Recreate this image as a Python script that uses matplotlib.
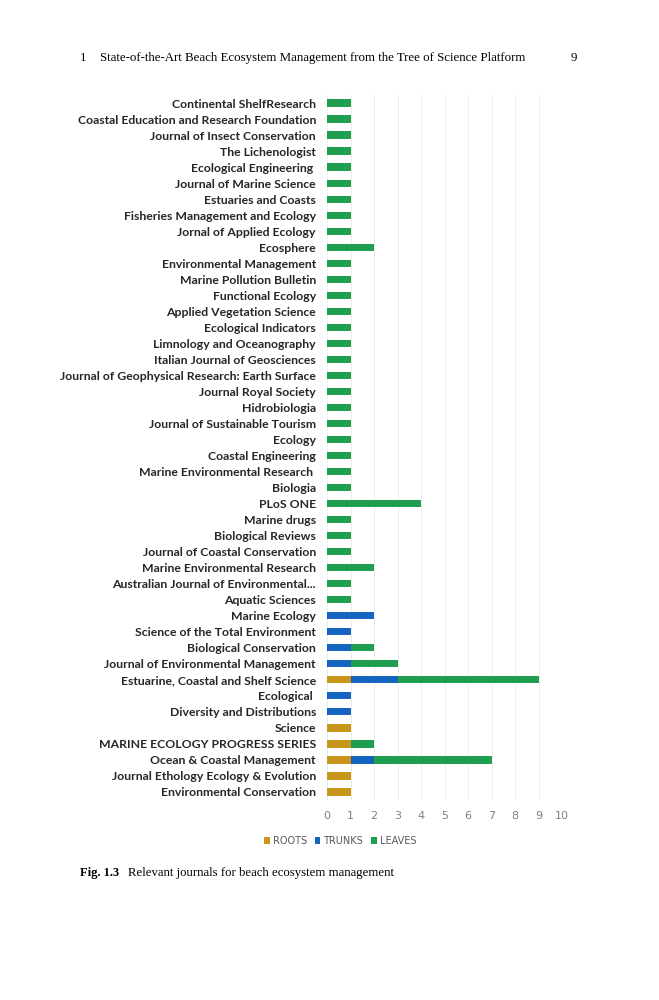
import matplotlib.pyplot as plt
import numpy as np

# journals, top to bottom as in the figure
journals = [
    "Continental ShelfResearch",
    "Coastal Education and Research Foundation",
    "Journal of Insect Conservation",
    "The Lichenologist",
    "Ecological Engineering ",
    "Journal of Marine Science",
    "Estuaries and Coasts",
    "Fisheries Management and Ecology",
    "Jornal of Applied Ecology",
    "Ecosphere",
    "Environmental Management",
    "Marine Pollution Bulletin",
    "Functional Ecology",
    "Applied Vegetation Science",
    "Ecological Indicators",
    "Limnology and Oceanography",
    "Italian Journal of Geosciences",
    "Journal of Geophysical Research: Earth Surface",
    "Journal Royal Society",
    "Hidrobiologia",
    "Journal of Sustainable Tourism",
    "Ecology",
    "Coastal Engineering",
    "Marine Environmental Research ",
    "Biologia",
    "PLoS ONE",
    "Marine drugs",
    "Biological Reviews",
    "Journal of Coastal Conservation",
    "Marine Environmental Research",
    "Australian Journal of Environmental...",
    "Aquatic Sciences",
    "Marine Ecology",
    "Science of the Total Environment",
    "Biological Conservation",
    "Journal of Environmental Management",
    "Estuarine, Coastal and Shelf Science",
    "Ecological ",
    "Diversity and Distributions",
    "Science",
    "MARINE ECOLOGY PROGRESS SERIES",
    "Ocean & Coastal Management",
    "Journal Ethology Ecology & Evolution",
    "Environmental Conservation",
]

roots = [0] * 36 + [1, 0, 0, 1, 1, 1, 1, 1]
trunks = [0] * 32 + [2, 1, 1, 1, 2, 1, 1, 0, 0, 1, 0, 0]
leaves = [1] * 9 + [2] + [1] * 15 + [4, 1, 1, 1, 2, 1, 1] + [0, 0, 1, 2, 6, 0, 0, 0, 1, 5, 0, 0]

c_roots = "#C9961A"
c_trunks = "#1565C0"
c_leaves = "#1E9E4E"

fig = plt.figure(figsize=(6.59, 10), dpi=100)
ax = fig.add_axes([327 / 659, 0.200, 235 / 659, 0.705])

y = np.arange(len(journals))
r = np.array(roots)
t = np.array(trunks)
l = np.array(leaves)
h = 0.45
ax.barh(y, r, height=h, color=c_roots, label="ROOTS", zorder=3)
ax.barh(y, t, left=r, height=h, color=c_trunks, label="TRUNKS", zorder=3)
ax.barh(y, l, left=r + t, height=h, color=c_leaves, label="LEAVES", zorder=3)

ax.set_xlim(0, 10)
ax.set_ylim(len(journals) - 0.5, -0.5)
ax.set_xticks(range(0, 11))
ax.set_yticks(y)
ax.set_yticklabels(journals, fontsize=8.8, fontweight="bold", family="Lato", color="#262626")
ax.tick_params(axis="y", length=0, pad=8)
ax.tick_params(axis="x", length=0, pad=8, labelsize=8, labelcolor="#808080")
ax.grid(axis="x", color="#EBEBEB", linewidth=0.6, zorder=0)
for s in ax.spines.values():
    s.set_visible(False)

handles, labels = ax.get_legend_handles_labels()
leg = fig.legend(handles, labels, loc="center", bbox_to_anchor=(340 / 659, 1 - 841 / 1000),
                 ncol=3, frameon=False, fontsize=7, handlelength=0.6, handleheight=0.6,
                 handletextpad=0.3, columnspacing=0.8)
for txt in leg.get_texts():
    txt.set_color("#595959")

# page header and caption
serif = "Liberation Serif"
fig.text(80 / 659, 1 - 58 / 1000, "1", family=serif, fontsize=9.3, va="center")
fig.text(100 / 659, 1 - 58 / 1000,
         "State-of-the-Art Beach Ecosystem Management from the Tree of Science Platform",
         family=serif, fontsize=9.3, va="center")
fig.text(577 / 659, 1 - 58 / 1000, "9", family=serif, fontsize=9.3, va="center", ha="right")
fig.text(80 / 659, 1 - 873 / 1000, "Fig. 1.3", family=serif, fontsize=9,
         fontweight="bold", va="center")
fig.text(128 / 659, 1 - 873 / 1000, "Relevant journals for beach ecosystem management",
         family=serif, fontsize=9.2, va="center")

fig.savefig("out.png", dpi=100)
